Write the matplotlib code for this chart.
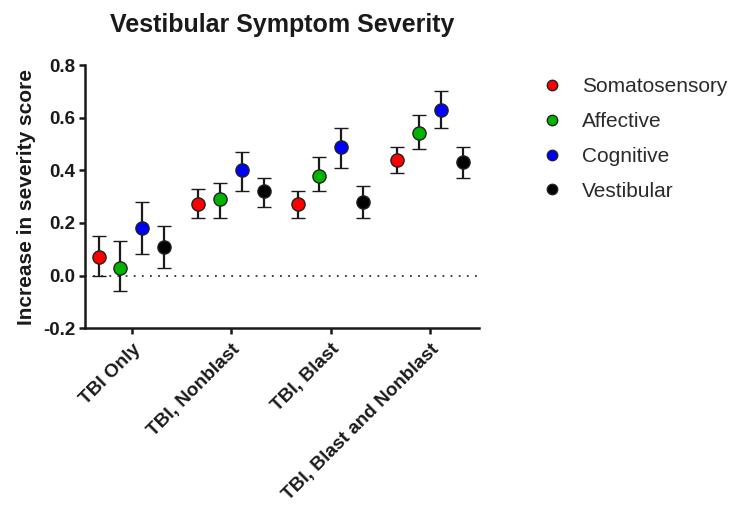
import matplotlib
matplotlib.use('Agg')
from matplotlib import pyplot as plt
from matplotlib.lines import Line2D

plt.rcParams['font.family'] = ['Liberation Sans', 'DejaVu Sans']

# groups and symptom domains
groups = ['TBI Only', 'TBI, Nonblast', 'TBI, Blast', 'TBI, Blast and Nonblast']
domains = ['Somatosensory', 'Affective', 'Cognitive', 'Vestibular']
colors = ['#ff0000', '#00b400', '#0000ff', '#000000']

# mean increase and error bar bounds, one list per domain (in group order)
somato = [0.07, 0.27, 0.27, 0.44]
somato_lo = [0.00, 0.22, 0.22, 0.39]
somato_hi = [0.15, 0.33, 0.32, 0.49]

affect = [0.03, 0.29, 0.38, 0.54]
affect_lo = [-0.06, 0.22, 0.32, 0.48]
affect_hi = [0.13, 0.35, 0.45, 0.61]

cognit = [0.18, 0.40, 0.49, 0.63]
cognit_lo = [0.08, 0.32, 0.41, 0.56]
cognit_hi = [0.28, 0.47, 0.56, 0.70]

vestib = [0.11, 0.32, 0.28, 0.43]
vestib_lo = [0.03, 0.26, 0.22, 0.37]
vestib_hi = [0.19, 0.37, 0.34, 0.49]

means = [somato, affect, cognit, vestib]
lows = [somato_lo, affect_lo, cognit_lo, vestib_lo]
highs = [somato_hi, affect_hi, cognit_hi, vestib_hi]
offsets = [-0.33, -0.115, 0.105, 0.325]

fig = plt.figure(figsize=(7.3, 5.08), dpi=100)
ax = fig.add_axes([0.1164, 0.354, 0.5397, 0.518])

for i in range(len(domains)):
    xs = [g + offsets[i] for g in range(len(groups))]
    yerr = [[m - lo for m, lo in zip(means[i], lows[i])],
            [hi - m for m, hi in zip(means[i], highs[i])]]
    ax.errorbar(xs, means[i], yerr=yerr, fmt='o', color=colors[i],
                ecolor='#1a1a1a', elinewidth=1.6, capsize=4.8, capthick=1.6,
                markersize=9.5, markeredgecolor='#222222', markeredgewidth=1.0,
                zorder=3)

ax.axhline(0, color='#333333', lw=1.3, ls=(0, (1, 3.5)), zorder=1)

ax.set_xlim(-0.47, 3.49)
ax.set_ylim(-0.2, 0.8)
ax.set_yticks([-0.2, 0.0, 0.2, 0.4, 0.6, 0.8])
ax.set_yticklabels(['-0.2', '0.0', '0.2', '0.4', '0.6', '0.8'])
ax.set_xticks(range(len(groups)))
ax.set_xticklabels(groups, rotation=45, ha='right', rotation_mode='anchor')

for side in ['top', 'right']:
    ax.spines[side].set_visible(False)
for side in ['left', 'bottom']:
    ax.spines[side].set_linewidth(1.8)
    ax.spines[side].set_color('#1a1a1a')

ax.tick_params(axis='both', direction='out', length=4, width=1.8,
               color='#1a1a1a')
ax.tick_params(axis='y', labelsize=13.5, pad=3)
ax.tick_params(axis='x', labelsize=13.7, pad=5)
for lab in ax.get_xticklabels() + ax.get_yticklabels():
    lab.set_fontweight('bold')
    lab.set_color('#1a1a1a')

ax.set_ylabel('Increase in severity score', fontsize=15, fontweight='bold',
              color='#1a1a1a', labelpad=5)

ax.set_title('Vestibular Symptom Severity', fontsize=18, fontweight='bold',
             color='#1a1a1a', pad=24)

handles = [Line2D([0], [0], marker='o', ls='none', markersize=7.5,
                  markerfacecolor=c, markeredgecolor='#222222',
                  markeredgewidth=1.0) for c in colors]
fig.legend(handles, domains, loc='upper left', bbox_to_anchor=(0.742, 0.848),
           frameon=False, fontsize=15, labelspacing=0.76, handlelength=1.0,
           handletextpad=0.94, borderpad=0, borderaxespad=0,
           labelcolor='#2a2a2a')

fig.savefig('out.png', dpi=100)
